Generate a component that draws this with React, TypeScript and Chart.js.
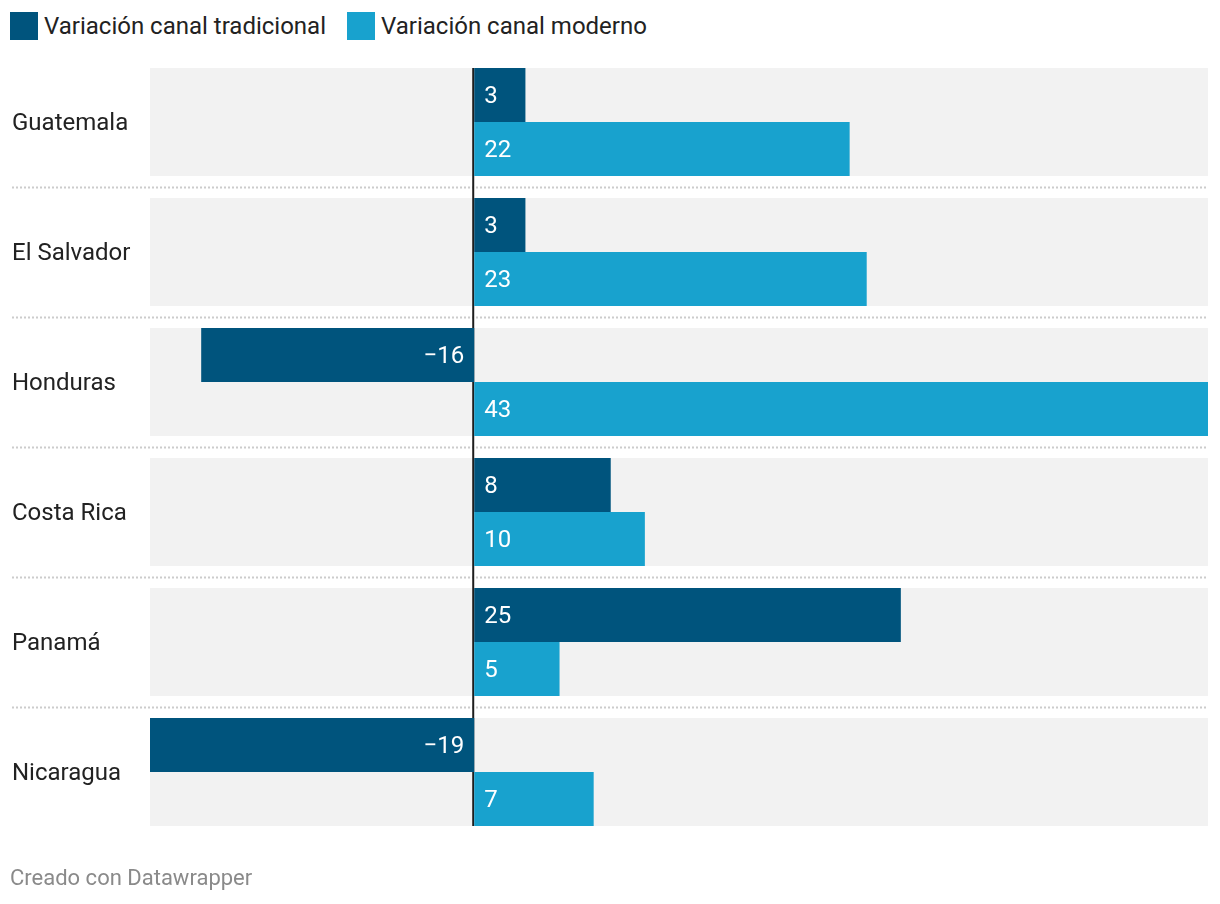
import React, { useEffect, useRef } from "react";
import { Chart, registerables } from "chart.js";

Chart.register(...registerables);

const categories = ["Guatemala", "El Salvador", "Honduras", "Costa Rica", "Panamá", "Nicaragua"];
const traditionalValues = [3, 3, -16, 8, 25, -19];
const modernValues = [22, 23, 43, 10, 5, 7];
const seriesNames = ["Variación canal tradicional", "Variación canal moderno"];
const seriesColors = ["#00547d", "#18a2ce"];
const creditText = "Creado con Datawrapper";

const FONT = "Roboto, 'Noto Sans', sans-serif";

const fmt = (v: number) => (v < 0 ? "\u2212" + Math.abs(v) : String(v));

const bandsPlugin = {
  id: "bands",
  beforeDatasetsDraw(chart: any) {
    const { ctx, chartArea, scales } = chart;
    const y = scales.y;
    const x = scales.x;
    const half = 54;
    ctx.save();
    categories.forEach((_, i) => {
      const cy = y.getPixelForValue(i);
      ctx.fillStyle = "#f2f2f2";
      ctx.fillRect(chartArea.left, cy - half, chartArea.right - chartArea.left, half * 2);
      if (i < categories.length - 1) {
        const sy = Math.round(cy + 65) + 0.5;
        ctx.strokeStyle = "#cccccc";
        ctx.lineWidth = 2;
        ctx.setLineDash([2, 2]);
        ctx.beginPath();
        ctx.moveTo(12, sy);
        ctx.lineTo(chartArea.right, sy);
        ctx.stroke();
        ctx.setLineDash([]);
      }
    });
    const first = y.getPixelForValue(0) - half;
    const last = y.getPixelForValue(categories.length - 1) + half;
    const zx = x.getPixelForValue(0) - 1;
    ctx.strokeStyle = "#1d1d1d";
    ctx.lineWidth = 2;
    ctx.beginPath();
    ctx.moveTo(zx, first);
    ctx.lineTo(zx, last);
    ctx.stroke();
    ctx.restore();
  },
};

const labelsPlugin = {
  id: "valueLabels",
  afterDatasetsDraw(chart: any) {
    const { ctx } = chart;
    ctx.save();
    ctx.font = `24px ${FONT}`;
    ctx.fillStyle = "#ffffff";
    ctx.textBaseline = "middle";
    chart.data.datasets.forEach((ds: any, di: number) => {
      const meta = chart.getDatasetMeta(di);
      meta.data.forEach((bar: any, i: number) => {
        const v = ds.data[i];
        if (v >= 0) {
          ctx.textAlign = "left";
          ctx.fillText(fmt(v), bar.base + 10, bar.y + 2);
        } else {
          ctx.textAlign = "right";
          ctx.fillText(fmt(v), bar.base - 10, bar.y + 2);
        }
      });
    });
    ctx.restore();
  },
};

export default function App() {
  const ref = useRef<HTMLCanvasElement>(null);
  useEffect(() => {
    document.body.style.margin = "0";
    const chart = new Chart(ref.current!, {
      type: "bar",
      data: {
        labels: categories,
        datasets: [
          {
            label: seriesNames[0],
            data: traditionalValues,
            backgroundColor: seriesColors[0],
            barPercentage: 1,
            categoryPercentage: 108 / 130,
          },
          {
            label: seriesNames[1],
            data: modernValues,
            backgroundColor: seriesColors[1],
            barPercentage: 1,
            categoryPercentage: 108 / 130,
          },
        ],
      },
      options: {
        indexAxis: "y",
        animation: false,
        responsive: false,
        maintainAspectRatio: false,
        layout: { padding: { left: 12, right: 12, top: 57, bottom: 67 } },
        plugins: {
          legend: { display: false },
          tooltip: { enabled: false },
        },
        scales: {
          x: {
            type: "linear",
            min: -19,
            max: 43,
            display: false,
          },
          y: {
            type: "category",
            grid: { display: false },
            border: { display: false },
            ticks: {
              crossAlign: "far",
              padding: 0,
              labelOffset: 2,
              color: "#222222",
              font: { family: FONT, size: 24 },
            },
            afterFit(scale: any) {
              scale.width = 138;
            },
          },
        },
      },
      plugins: [bandsPlugin, labelsPlugin],
    } as any);
    return () => chart.destroy();
  }, []);

  return (
    <div style={{ position: "relative", width: 1220, height: 904, background: "#fff", fontFamily: FONT }}>
      <div style={{ position: "absolute", left: 10, top: 12, display: "flex", alignItems: "center" }}>
        {seriesNames.map((n, i) => (
          <div key={n} style={{ display: "flex", alignItems: "center", marginRight: 21 }}>
            <div style={{ width: 28, height: 28, background: seriesColors[i], marginRight: 6 }} />
            <span style={{ fontSize: 24, color: "#222", lineHeight: "28px" }}>{n}</span>
          </div>
        ))}
      </div>
      <canvas ref={ref} width={1220} height={904} style={{ position: "absolute", left: 0, top: 0, display: "block" }} />
      <div style={{ position: "absolute", left: 10, top: 866, fontSize: 22, color: "#8a8a8a", lineHeight: "24px" }}>{creditText}</div>
    </div>
  );
}
